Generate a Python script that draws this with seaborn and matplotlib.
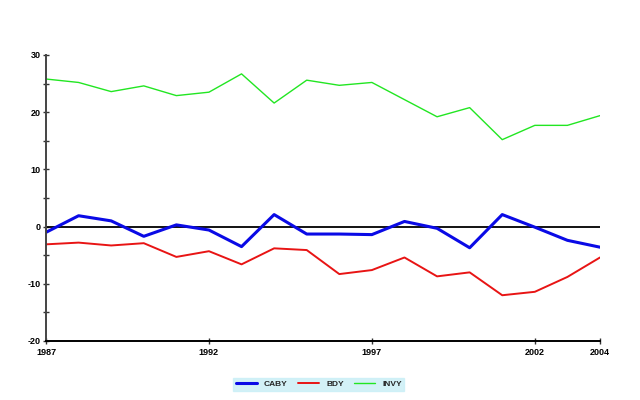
import pandas as pd
import seaborn as sns
import matplotlib.pyplot as plt
from matplotlib.lines import Line2D
from matplotlib.ticker import MultipleLocator

sns.set_style("white")
plt.rcParams['font.family'] = ['Liberation Sans', 'DejaVu Sans']
plt.rcParams['axes.unicode_minus'] = False

years = list(range(1987, 2005))
caby = [-1.0, 1.9, 1.0, -1.7, 0.3, -0.6, -3.5, 2.1, -1.3,
        -1.3, -1.4, 0.9, -0.3, -3.7, 2.1, -0.1, -2.4, -3.6]
bdy = [-3.1, -2.8, -3.3, -2.9, -5.3, -4.3, -6.6, -3.8, -4.1,
       -8.3, -7.6, -5.4, -8.7, -8.0, -12.0, -11.4, -8.8, -5.4]
invy = [25.8, 25.2, 23.6, 24.6, 22.9, 23.5, 26.7, 21.6, 25.6,
        24.7, 25.2, 22.2, 19.2, 20.8, 15.2, 17.7, 17.7, 19.4]
series = ['CABY', 'BDY', 'INVY']
xticks = [1987, 1992, 1997, 2002, 2004]

df = pd.DataFrame({
    'year': years * 3,
    'value': caby + bdy + invy,
    'series': ['CABY'] * 18 + ['BDY'] * 18 + ['INVY'] * 18,
})

colors = {'CABY': '#0a0ae6', 'BDY': '#e81414', 'INVY': '#22e622'}
widths = {'CABY': 2.2, 'BDY': 1.4, 'INVY': 1.0}

fig = plt.figure(figsize=(6.4, 4), dpi=100)
ax = fig.add_axes([0.0719, 0.1475, 0.8656, 0.715])

ax.axhline(0, color='black', lw=1.3, zorder=1)
sns.lineplot(data=df, x='year', y='value', hue='series', size='series',
             palette=colors, sizes=widths, legend=False, ax=ax, zorder=2)

ax.set_xlim(1987, 2004)
ax.set_ylim(-20, 30)
ax.set_xticks(xticks)
ax.set_xticklabels([str(y) for y in xticks])
ax.yaxis.set_major_locator(MultipleLocator(10))
ax.yaxis.set_minor_locator(MultipleLocator(5))
ax.set_xlabel('')
ax.set_ylabel('')

for s in ['top', 'right']:
    ax.spines[s].set_visible(False)
ax.spines['left'].set_color('#444444')
ax.spines['left'].set_linewidth(1.4)
ax.spines['bottom'].set_color('black')
ax.spines['bottom'].set_linewidth(1.4)

ax.tick_params(axis='both', which='both', direction='inout', length=4,
               width=1, color='#333333', labelsize=6.5, labelcolor='black',
               pad=2, left=True, bottom=True)
ax.tick_params(axis='x', pad=3)
for lab in ax.get_xticklabels() + ax.get_yticklabels():
    lab.set_fontweight('bold')

handles = [Line2D([], [], color=colors[s], lw=widths[s]) for s in series]
leg = fig.legend(handles, series, loc='center', bbox_to_anchor=(0.498, 0.039),
                 ncol=3, fontsize=6, frameon=True, fancybox=False,
                 facecolor='#c8eef6', edgecolor='#c8eef6', handlelength=2.6,
                 columnspacing=1.2, handletextpad=0.8, borderpad=0.3,
                 borderaxespad=0)
for t in leg.get_texts():
    t.set_fontweight('bold')

fig.savefig('out.png', dpi=100)
